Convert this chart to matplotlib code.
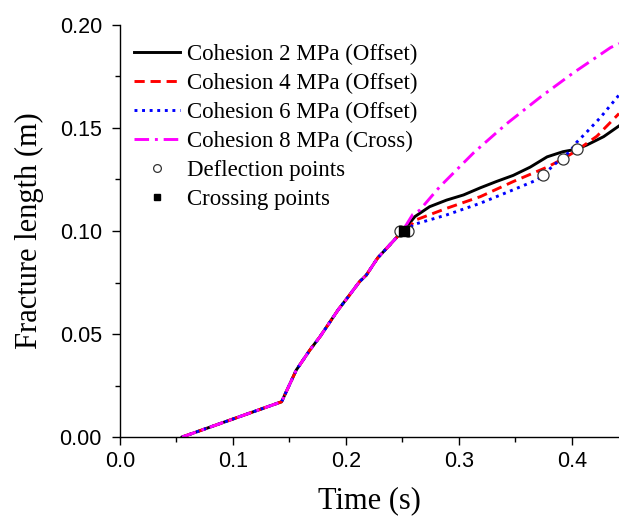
import matplotlib
matplotlib.use("Agg")
import matplotlib.pyplot as plt
from matplotlib.ticker import MultipleLocator

# common part of all four curves (before the interface)
t_common = [0.055, 0.143, 0.156, 0.168, 0.177, 0.193, 0.202, 0.212, 0.218, 0.228, 0.240, 0.250]
l_common = [0.000, 0.0171, 0.0325, 0.0422, 0.0487, 0.0617, 0.0681, 0.0754, 0.0786, 0.0869, 0.094, 0.100]

# after the interface
t_c2 = [0.255, 0.261, 0.274, 0.289, 0.304, 0.319, 0.333, 0.348, 0.363, 0.372, 0.378, 0.392, 0.404, 0.413, 0.428, 0.4416]
l_c2 = [0.103, 0.107, 0.1118, 0.115, 0.1175, 0.121, 0.124, 0.127, 0.131, 0.134, 0.136, 0.1385, 0.1397, 0.1417, 0.1458, 0.151]

t_c4 = [0.255, 0.260, 0.289, 0.319, 0.348, 0.378, 0.392, 0.404, 0.422, 0.4416]
l_c4 = [0.100, 0.105, 0.111, 0.1167, 0.124, 0.131, 0.135, 0.139, 0.146, 0.157]

t_c6 = [0.255, 0.259, 0.289, 0.319, 0.348, 0.369, 0.374, 0.386, 0.398, 0.404, 0.413, 0.425, 0.4416]
l_c6 = [0.100, 0.103, 0.1078, 0.1135, 0.120, 0.1248, 0.127, 0.133, 0.1385, 0.143, 0.148, 0.155, 0.166]

t_c8 = [0.259, 0.265, 0.283, 0.313, 0.342, 0.372, 0.401, 0.434, 0.4416]
l_c8 = [0.108, 0.110, 0.1215, 0.138, 0.152, 0.165, 0.1767, 0.189, 0.191]

defl_t = [0.248, 0.255, 0.374, 0.392, 0.404]
defl_l = [0.100, 0.100, 0.127, 0.135, 0.1397]
cross_t = [0.251]
cross_l = [0.100]

labels = ["Cohesion 2 MPa (Offset)", "Cohesion 4 MPa (Offset)",
          "Cohesion 6 MPa (Offset)", "Cohesion 8 MPa (Cross)",
          "Deflection points", "Crossing points"]

fig = plt.figure(figsize=(6.19, 5.18), dpi=100)
ax = fig.add_axes([120/619, 81/518, 499/619, 412/518])

ax.plot(t_common + t_c2, l_common + l_c2, color='black', lw=2.1, ls='-', label=labels[0])
ax.plot(t_common + t_c4, l_common + l_c4, color='red', lw=2.1, ls=(0, (3.5, 2)), label=labels[1])
ax.plot(t_common + t_c6, l_common + l_c6, color='blue', lw=2.1, ls=(0, (1, 1.6)), label=labels[2])
ax.plot(t_common + t_c8, l_common + l_c8, color='magenta', lw=2.1, ls=(0, (5, 2, 1, 2)), label=labels[3])
ax.plot(defl_t, defl_l, 'o', ms=8, mfc='white', mec='#333333', mew=0.9, label=labels[4])
ax.plot(cross_t, cross_l, 's', ms=7, color='black', label=labels[5])

ax.set_xlim(0, 0.4416)
ax.set_ylim(0, 0.20)
ax.xaxis.set_major_locator(MultipleLocator(0.1))
ax.xaxis.set_minor_locator(MultipleLocator(0.05))
ax.yaxis.set_major_locator(MultipleLocator(0.05))
ax.yaxis.set_minor_locator(MultipleLocator(0.025))
ax.xaxis.set_major_formatter(plt.FormatStrFormatter('%.1f'))
ax.yaxis.set_major_formatter(plt.FormatStrFormatter('%.2f'))

ax.spines['top'].set_visible(False)
ax.spines['right'].set_visible(False)
for s in ['left', 'bottom']:
    ax.spines[s].set_linewidth(1.0)
ax.tick_params(which='major', length=6, width=1.0, labelsize=15.5, pad=4)
ax.tick_params(axis='y', which='major', pad=7)
ax.tick_params(which='minor', length=3.5, width=1.0)
for lab in ax.get_xticklabels() + ax.get_yticklabels():
    lab.set_fontfamily('Liberation Sans')

ax.set_xlabel("Time (s)", fontsize=22, family='Liberation Serif', labelpad=10)
ax.set_ylabel("Fracture length (m)", fontsize=22, family='Liberation Serif', labelpad=11)

leg = ax.legend(loc='upper left', bbox_to_anchor=(-0.004, 0.993), frameon=False,
                prop={'family': 'Liberation Serif', 'size': 16.5},
                handlelength=2.0, handletextpad=0.3, labelspacing=0.34,
                markerscale=0.7, borderaxespad=0.3)

fig.savefig("out.png", dpi=100)
